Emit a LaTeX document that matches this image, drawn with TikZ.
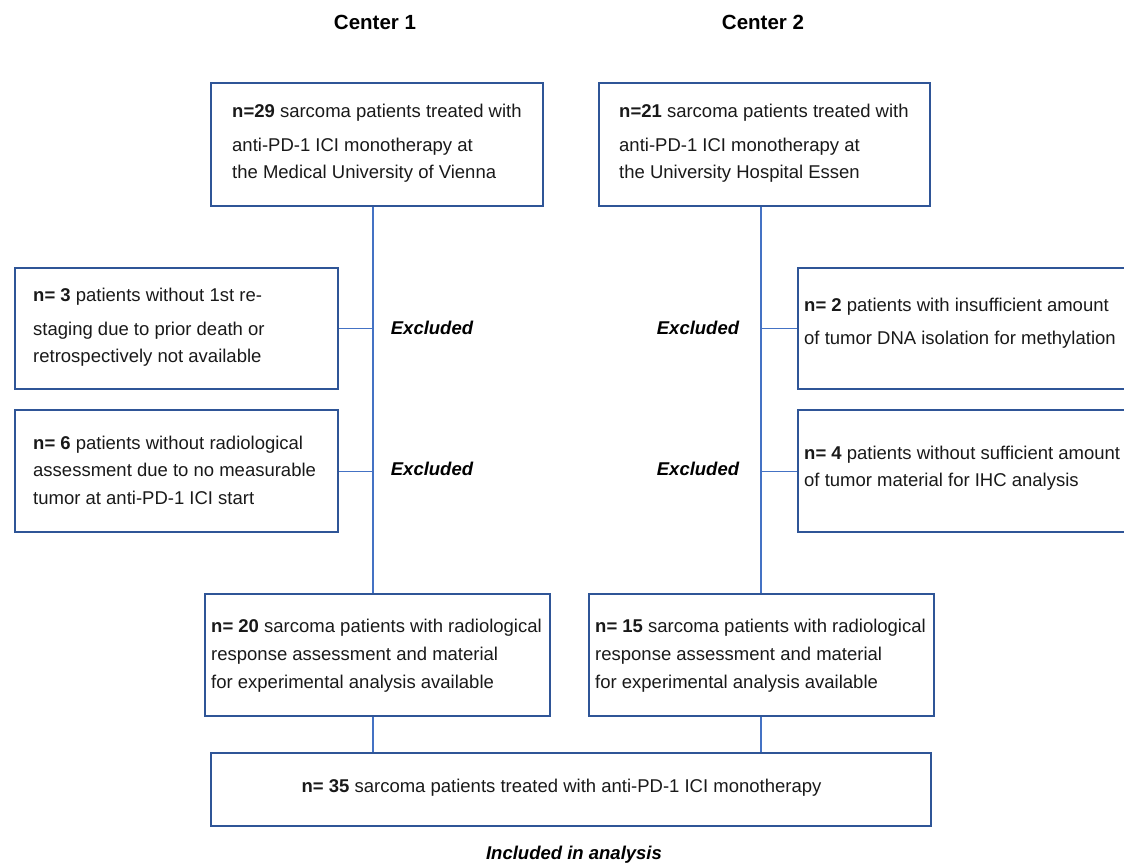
\documentclass[tikz,border=0pt]{standalone}
\usepackage{fontspec}
\setmainfont{Liberation Sans}
\definecolor{boxblue}{HTML}{2F5597}
\definecolor{linkblue}{HTML}{4472C4}
\tikzset{
  box/.style={draw=boxblue, line width=2.2pt, fill=none, rectangle, inner sep=0pt, anchor=north west},
  txt/.style={anchor=west, align=left, inner sep=0pt, text=black!90, font=\fontsize{18.5}{27.5}\selectfont},
  head/.style={inner sep=0pt, font=\fontsize{20.5}{24}\selectfont\bfseries},
  excl/.style={inner sep=0pt, font=\fontsize{18.5}{22}\selectfont\bfseries\itshape},
  link/.style={draw=linkblue, line width=1.2pt}
}
\begin{document}
\begin{tikzpicture}[x=1pt, y=-1pt]
\useasboundingbox (0,0) rectangle (1124,867);
\clip (0,0) rectangle (1124,867);

% headers
\node[head] (h1) at (375,22) {Center 1};
\node[head] (h2) at (763,22) {Center 2};

% top boxes
\node[box, minimum width=332pt, minimum height=123pt] (A) at (210,82) {};
\node[txt] (At) at (232,143.5) {\textbf{n=29} sarcoma patients treated with\\[6pt]anti-PD-1 ICI monotherapy at\\the Medical University of Vienna};
\node[box, minimum width=331pt, minimum height=123pt] (B) at (598,82) {};
\node[txt] (Bt) at (619,143.5) {\textbf{n=21} sarcoma patients treated with\\[6pt]anti-PD-1 ICI monotherapy at\\the University Hospital Essen};

% excluded boxes left
\node[box, minimum width=323pt, minimum height=121pt] (E1) at (14,267) {};
\node[txt] (E1t) at (33,327.5) {\textbf{n= 3} patients without 1st re-\\[6pt]staging due to prior death or\\retrospectively not available};
\node[box, minimum width=323pt, minimum height=122pt] (E2) at (14,409) {};
\node[txt] (E2t) at (33,470) {\textbf{n= 6} patients without radiological\\assessment due to no measurable\\tumor at anti-PD-1 ICI start};

% excluded boxes right (cut by the edge)
\node[box, minimum width=345pt, minimum height=121pt] (R1) at (797,267) {};
\node[txt] (R1t) at (804,323) {\textbf{n= 2} patients with insufficient amount\\[6pt]of tumor DNA isolation for methylation};
\node[box, minimum width=345pt, minimum height=122pt] (R2) at (797,409) {};
\node[txt] (R2t) at (804,468) {\textbf{n= 4} patients without sufficient amount\\of tumor material for IHC analysis};

% Excluded labels
\node[excl] (x1) at (432,328) {Excluded};
\node[excl] (x2) at (432,469) {Excluded};
\node[excl] (x3) at (698,328) {Excluded};
\node[excl] (x4) at (698,469) {Excluded};

% included boxes
\node[box, minimum width=345pt, minimum height=122pt] (C) at (204,593) {};
\node[txt] (Ct) at (211,655.5) {\textbf{n= 20} sarcoma patients with radiological\\[1pt]response assessment and material\\for experimental analysis available};
\node[box, minimum width=345pt, minimum height=122pt] (D) at (588,593) {};
\node[txt] (Dt) at (595,655.5) {\textbf{n= 15} sarcoma patients with radiological\\[1pt]response assessment and material\\for experimental analysis available};

% final box
\node[box, minimum width=720pt, minimum height=73pt] (F) at (210,752) {};
\node[txt, anchor=center] (Ft) at (561.5,788) {\textbf{n= 35} sarcoma patients treated with anti-PD-1 ICI monotherapy};
\node[excl] (inc) at (574,855) {Included in analysis};

% column coordinates
\coordinate (c1) at (373,0);
\coordinate (c2) at (761,0);

% connectors
\draw[link] (A.south -| c1) -- (C.north -| c1);
\draw[link] (B.south -| c2) -- (D.north -| c2);
\draw[link] (E1.east) -- (E1.east -| c1);
\draw[link] (E2.east) -- (E2.east -| c1);
\draw[link] (R1.west) -- (R1.west -| c2);
\draw[link] (R2.west) -- (R2.west -| c2);
\draw[link] (C.south -| c1) -- (F.north -| c1);
\draw[link] (D.south -| c2) -- (F.north -| c2);
\end{tikzpicture}
\end{document}
